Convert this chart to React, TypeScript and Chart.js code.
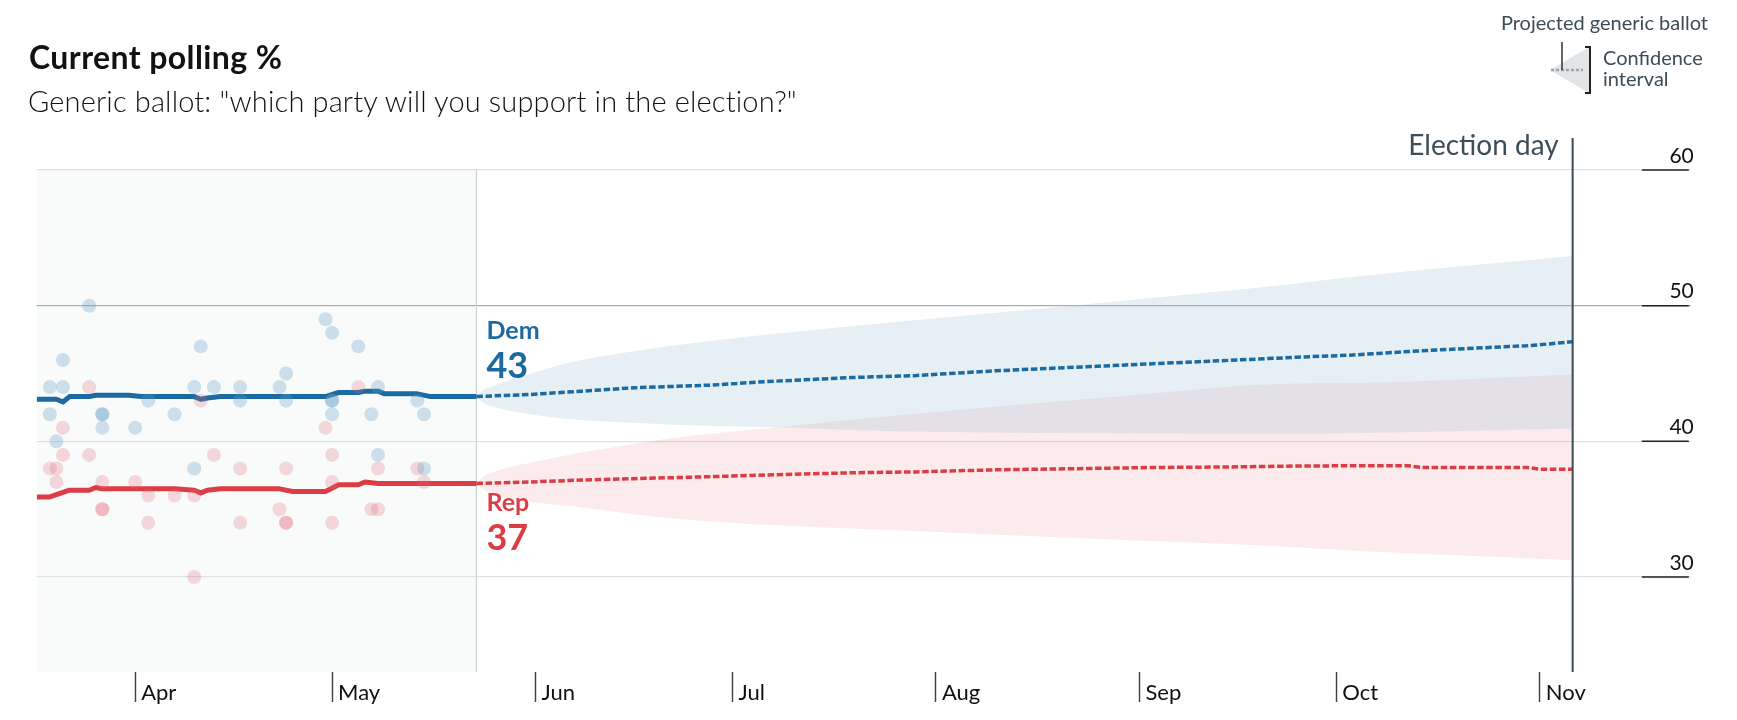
import React, { useEffect, useRef } from "react";
import { Chart, registerables } from "chart.js";

Chart.register(...registerables);

// ---------- axis definitions ----------
const X_START = "2018-03-17";
const X_END = "2018-11-24";
const TODAY = "2018-05-23";
const ELECTION_DAY = "2018-11-06";
const MONTH_TICKS = ["2018-04-01", "2018-05-01", "2018-06-01", "2018-07-01", "2018-08-01", "2018-09-01", "2018-10-01", "2018-11-01"];
const MONTH_LABELS = ["Apr", "May", "Jun", "Jul", "Aug", "Sep", "Oct", "Nov"];
const Y_TICKS = [30, 40, 50, 60];
const Y_MIN = 23;
const Y_MAX = 60;

// ---------- individual polls ----------
const DEM_POLL_DATES = ["2018-03-19", "2018-03-21", "2018-03-21", "2018-03-19", "2018-03-20", "2018-03-25", "2018-03-27", "2018-03-27", "2018-03-27", "2018-04-01", "2018-04-03", "2018-04-07", "2018-04-10", "2018-04-10", "2018-04-11", "2018-04-13", "2018-04-17", "2018-04-17", "2018-04-23", "2018-04-24", "2018-04-24", "2018-04-30", "2018-05-01", "2018-05-01", "2018-05-01", "2018-05-01", "2018-05-05", "2018-05-08", "2018-05-07", "2018-05-08", "2018-05-14", "2018-05-15", "2018-05-15"];
const DEM_POLL_VALUES = [44, 44, 46, 42, 40, 50, 42, 42, 41, 41, 43, 42, 44, 38, 47, 44, 44, 43, 44, 45, 43, 49, 48, 43, 43, 42, 47, 44, 42, 39, 43, 42, 38];

const REP_POLL_DATES = ["2018-03-25", "2018-03-21", "2018-03-21", "2018-03-19", "2018-03-20", "2018-03-20", "2018-03-25", "2018-03-27", "2018-03-27", "2018-03-27", "2018-04-01", "2018-04-03", "2018-04-03", "2018-04-07", "2018-04-10", "2018-04-11", "2018-04-10", "2018-04-13", "2018-04-17", "2018-04-17", "2018-04-24", "2018-04-23", "2018-04-24", "2018-04-24", "2018-04-30", "2018-05-01", "2018-05-01", "2018-05-01", "2018-05-05", "2018-05-08", "2018-05-07", "2018-05-08", "2018-05-14", "2018-05-15"];
const REP_POLL_VALUES = [44, 41, 39, 38, 38, 37, 39, 37, 35, 35, 37, 36, 34, 36, 36, 43, 30, 39, 38, 34, 38, 35, 34, 34, 41, 39, 37, 34, 44, 38, 35, 35, 38, 37];

// ---------- polling averages ----------
const DEM_TREND_DATES = ["2018-03-17", "2018-03-20", "2018-03-21", "2018-03-22", "2018-03-25", "2018-03-26", "2018-03-31", "2018-04-02", "2018-04-10", "2018-04-11", "2018-04-12", "2018-04-14", "2018-04-30", "2018-05-02", "2018-05-05", "2018-05-06", "2018-05-08", "2018-05-09", "2018-05-14", "2018-05-16", "2018-05-23"];
const DEM_TREND_VALUES = [43.1, 43.1, 42.9, 43.3, 43.3, 43.4, 43.4, 43.3, 43.3, 43.1, 43.2, 43.3, 43.3, 43.6, 43.6, 43.7, 43.7, 43.5, 43.5, 43.3, 43.3];

const REP_TREND_DATES = ["2018-03-17", "2018-03-19", "2018-03-22", "2018-03-25", "2018-03-26", "2018-03-27", "2018-04-07", "2018-04-10", "2018-04-11", "2018-04-12", "2018-04-14", "2018-04-23", "2018-04-25", "2018-04-30", "2018-05-02", "2018-05-05", "2018-05-06", "2018-05-08", "2018-05-23"];
const REP_TREND_VALUES = [35.9, 35.9, 36.4, 36.4, 36.6, 36.5, 36.5, 36.4, 36.2, 36.4, 36.5, 36.5, 36.3, 36.3, 36.8, 36.8, 37.0, 36.9, 36.9];

// ---------- projections ----------
const PROJ_DATES = ["2018-05-23", "2018-05-31", "2018-06-08", "2018-06-16", "2018-06-28", "2018-07-06", "2018-07-19", "2018-07-29", "2018-08-10", "2018-08-24", "2018-09-03", "2018-09-16", "2018-09-25", "2018-10-03", "2018-10-12", "2018-10-14", "2018-10-30", "2018-11-01", "2018-11-06"];
const DEM_PROJ = [43.3, 43.45, 43.7, 43.95, 44.15, 44.4, 44.7, 44.85, 45.2, 45.5, 45.72, 46.0, 46.2, 46.35, 46.62, 46.68, 47.05, 47.12, 47.35];
const REP_PROJ = [36.9, 37.0, 37.15, 37.25, 37.4, 37.52, 37.68, 37.75, 37.9, 38.0, 38.07, 38.12, 38.18, 38.2, 38.2, 38.08, 38.08, 37.95, 37.95];

// ---------- confidence intervals ----------
const BAND_DATES = ["2018-05-23", "2018-05-24", "2018-05-26", "2018-05-28", "2018-06-01", "2018-06-06", "2018-06-14", "2018-06-21", "2018-07-06", "2018-07-26", "2018-08-26", "2018-09-25", "2018-10-03", "2018-11-06"];
const DEM_UPPER = [43.3, 43.75, 44.15, 44.5, 45.1, 45.8, 46.5, 47.0, 47.85, 48.8, 50.2, 51.64, 52.1, 53.66];
const DEM_LOWER = [43.3, 42.85, 42.5, 42.25, 41.95, 41.65, 41.4, 41.25, 41.05, 40.75, 40.6, 40.58, 40.6, 40.95];
const REP_UPPER = [36.9, 37.4, 37.8, 38.1, 38.5, 39.0, 39.65, 40.2, 40.95, 41.9, 43.2, 44.27, 44.3, 44.9];
const REP_LOWER = [36.9, 36.45, 36.05, 35.75, 35.5, 35.25, 34.75, 34.35, 33.85, 33.45, 32.8, 32.2, 31.95, 31.24];

// ---------- styling ----------
const DEM = "#1b6aa1";
const REP = "#dc3d44";
const FONT = "Lato";

const dayOf = (s: string) =>
  (Date.UTC(+s.slice(0, 4), +s.slice(5, 7) - 1, +s.slice(8, 10)) - Date.UTC(2018, 0, 1)) / 86400000;

const pts = (dates: string[], vals: number[]) => dates.map((d, i) => ({ x: dayOf(d), y: vals[i] }));

const decorPlugin = {
  id: "decor",
  beforeDraw(chart: any) {
    const { ctx, chartArea: a, scales } = chart;
    const tx = scales.x.getPixelForValue(dayOf(TODAY));
    ctx.save();
    ctx.fillStyle = "#f9fbfb";
    ctx.fillRect(a.left, a.top, tx - a.left, a.bottom - a.top);
    ctx.restore();
  },
  beforeDatasetsDraw(chart: any) {
    const { ctx, chartArea: a, scales } = chart;
    const tx = scales.x.getPixelForValue(dayOf(TODAY));
    ctx.save();
    ctx.strokeStyle = "#c7d2d8";
    ctx.lineWidth = 1.2;
    ctx.beginPath();
    ctx.moveTo(tx, a.top);
    ctx.lineTo(tx, a.bottom);
    ctx.stroke();
    ctx.restore();
  },
  afterDatasetsDraw(chart: any) {
    const { ctx, chartArea: a, scales } = chart;
    const { x, y } = scales;
    const ex = x.getPixelForValue(dayOf(ELECTION_DAY));
    ctx.save();
    // election day line + label
    ctx.strokeStyle = "#3a4b55";
    ctx.lineWidth = 2;
    ctx.beginPath();
    ctx.moveTo(ex, a.top - 32);
    ctx.lineTo(ex, a.bottom);
    ctx.stroke();
    ctx.font = `28px ${FONT}`;
    ctx.fillStyle = "#3c4e58";
    ctx.textAlign = "right";
    ctx.textBaseline = "alphabetic";
    ctx.fillText("Election day", ex - 14, a.top - 15);

    // dark underlines of y labels
    ctx.strokeStyle = "#222";
    ctx.lineWidth = 1.5;
    Y_TICKS.forEach((v) => {
      const yy = y.getPixelForValue(v);
      ctx.beginPath();
      ctx.moveTo(a.right - 49, yy);
      ctx.lineTo(a.right - 2, yy);
      ctx.stroke();
    });

    // party labels
    const tx = x.getPixelForValue(dayOf(TODAY)) + 10;
    const demLast = DEM_TREND_VALUES[DEM_TREND_VALUES.length - 1];
    const repLast = REP_TREND_VALUES[REP_TREND_VALUES.length - 1];
    const dy = y.getPixelForValue(demLast);
    const ry = y.getPixelForValue(repLast);
    ctx.textAlign = "left";
    ctx.fillStyle = DEM;
    ctx.font = `bold 25px ${FONT}`;
    ctx.fillText("Dem", tx, dy - 58);
    ctx.font = `bold 36px ${FONT}`;
    ctx.fillText(String(Math.round(demLast)), tx, dy - 19);
    ctx.fillStyle = REP;
    ctx.font = `bold 25px ${FONT}`;
    ctx.fillText("Rep", tx, ry + 28);
    ctx.font = `bold 36px ${FONT}`;
    ctx.fillText(String(Math.round(repLast)), tx, ry + 67);
    ctx.restore();
  },
  afterDraw(chart: any) {
    const { ctx } = chart;
    ctx.save();
    // legend key: confidence wedge
    ctx.fillStyle = "#e1e5e7";
    ctx.beginPath();
    ctx.moveTo(1550, 70);
    ctx.lineTo(1589, 47);
    ctx.lineTo(1589, 93);
    ctx.closePath();
    ctx.fill();
    ctx.strokeStyle = "#9aa4aa";
    ctx.lineWidth = 2.5;
    ctx.setLineDash([3, 2]);
    ctx.beginPath();
    ctx.moveTo(1551, 70);
    ctx.lineTo(1583, 70);
    ctx.stroke();
    ctx.setLineDash([]);
    ctx.strokeStyle = "#333";
    ctx.lineWidth = 1.5;
    ctx.beginPath();
    ctx.moveTo(1562, 42);
    ctx.lineTo(1562, 70);
    ctx.stroke();
    ctx.strokeStyle = "#222";
    ctx.lineWidth = 2;
    ctx.beginPath();
    ctx.moveTo(1585, 47);
    ctx.lineTo(1590, 47);
    ctx.lineTo(1590, 93);
    ctx.lineTo(1585, 93);
    ctx.stroke();
    ctx.restore();
  },
};

export default function App() {
  const ref = useRef<HTMLCanvasElement | null>(null);

  useEffect(() => {
    if (!ref.current) return;
    Chart.defaults.font.family = FONT;
    const chart = new Chart(ref.current, {
      type: "line",
      data: {
        datasets: [
          {
            label: "Dem polls",
            data: pts(DEM_POLL_DATES, DEM_POLL_VALUES),
            showLine: false,
            pointRadius: 7,
            pointBackgroundColor: "rgba(95,155,195,0.3)",
            pointBorderWidth: 0,
            borderColor: "transparent",
            order: 1,
          },
          {
            label: "Rep polls",
            data: pts(REP_POLL_DATES, REP_POLL_VALUES),
            showLine: false,
            pointRadius: 7,
            pointBackgroundColor: "rgba(228,105,115,0.25)",
            pointBorderWidth: 0,
            borderColor: "transparent",
            order: 2,
          },
          {
            label: "Dem",
            data: pts(DEM_TREND_DATES, DEM_TREND_VALUES),
            borderColor: DEM,
            borderWidth: 5,
            pointRadius: 0,
            borderJoinStyle: "round",
            fill: false,
            order: 3,
          },
          {
            label: "Rep",
            data: pts(REP_TREND_DATES, REP_TREND_VALUES),
            borderColor: REP,
            borderWidth: 5,
            pointRadius: 0,
            borderJoinStyle: "round",
            fill: false,
            order: 4,
          },
          {
            label: "Dem projection",
            data: pts(PROJ_DATES, DEM_PROJ),
            borderColor: DEM,
            borderWidth: 3.5,
            borderDash: [6.5, 2.6],
            pointRadius: 0,
            fill: false,
            order: 5,
          },
          {
            label: "Rep projection",
            data: pts(PROJ_DATES, REP_PROJ),
            borderColor: REP,
            borderWidth: 3.5,
            borderDash: [6.5, 2.6],
            pointRadius: 0,
            fill: false,
            order: 6,
          },
          {
            label: "Dem upper",
            data: pts(BAND_DATES, DEM_UPPER),
            borderColor: "transparent",
            borderWidth: 0,
            pointRadius: 0,
            cubicInterpolationMode: "monotone",
            fill: "+1",
            backgroundColor: "rgba(150,190,212,0.25)",
            order: 7,
          },
          {
            label: "Dem lower",
            data: pts(BAND_DATES, DEM_LOWER),
            borderColor: "transparent",
            borderWidth: 0,
            pointRadius: 0,
            cubicInterpolationMode: "monotone",
            fill: false,
            order: 7,
          },
          {
            label: "Rep upper",
            data: pts(BAND_DATES, REP_UPPER),
            borderColor: "transparent",
            borderWidth: 0,
            pointRadius: 0,
            cubicInterpolationMode: "monotone",
            fill: "+1",
            backgroundColor: "rgba(236,120,130,0.15)",
            order: 8,
          },
          {
            label: "Rep lower",
            data: pts(BAND_DATES, REP_LOWER),
            borderColor: "transparent",
            borderWidth: 0,
            pointRadius: 0,
            cubicInterpolationMode: "monotone",
            fill: false,
            order: 8,
          },
        ],
      },
      options: {
        animation: false,
        responsive: false,
        devicePixelRatio: 1,
        events: [],
        layout: { padding: { left: 36.7, top: 170, right: 0, bottom: 0 } },
        plugins: { legend: { display: false }, tooltip: { enabled: false }, title: { display: false } },
        scales: {
          x: {
            type: "linear",
            min: dayOf(X_START),
            max: dayOf(X_END),
            afterBuildTicks: (s: any) => {
              s.ticks = MONTH_TICKS.map((d) => ({ value: dayOf(d) }));
            },
            afterFit: (s: any) => {
              s.height = 48;
            },
            ticks: {
              callback: (_v: any, i: number) => MONTH_LABELS[i],
              autoSkip: false,
              maxRotation: 0,
              minRotation: 0,
              align: "start",
              labelOffset: 6,
              padding: -22,
              color: "#111",
              font: { family: FONT, size: 22 },
            },
            grid: {
              drawOnChartArea: false,
              drawTicks: true,
              tickLength: 30,
              tickColor: "#3a3f44",
              tickWidth: 1.4,
            },
            border: { display: false },
          },
          y: {
            type: "linear",
            position: "right",
            min: Y_MIN,
            max: Y_MAX,
            afterBuildTicks: (s: any) => {
              s.ticks = Y_TICKS.map((v) => ({ value: v }));
            },
            afterFit: (s: any) => {
              s.width = 46.2;
            },
            ticks: {
              mirror: true,
              padding: 3,
              labelOffset: -14,
              color: "#111",
              font: { family: FONT, size: 21 },
            },
            grid: {
              drawTicks: false,
              color: (c: any) => (c.tick && c.tick.value === 50 ? "#a3afb6" : "#dce1e4"),
              lineWidth: 1.3,
            },
            border: { display: false },
          },
        },
      },
      plugins: [decorPlugin],
    } as any);
    return () => chart.destroy();
  }, []);

  const legendText: React.CSSProperties = {
    position: "absolute",
    font: `400 20px ${FONT}`,
    lineHeight: "20px",
    color: "#3c4d57",
    whiteSpace: "nowrap",
  };

  return (
    <div style={{ position: "absolute", left: 0, top: 0, width: 1737, height: 720, background: "#fff", overflow: "hidden" }}>
      <canvas ref={ref} width={1737} height={720} style={{ position: "absolute", left: 0, top: 0, width: 1737, height: 720 }} />
      <div style={{ position: "absolute", left: 29, top: 41, font: `700 32px ${FONT}`, lineHeight: "32px", letterSpacing: "0.4px", color: "#121212", whiteSpace: "nowrap" }}>
        Current polling %
      </div>
      <div style={{ position: "absolute", left: 28, top: 86, font: `300 29px ${FONT}`, lineHeight: "29px", letterSpacing: "0.15px", color: "#121212", whiteSpace: "nowrap" }}>
        Generic ballot: "which party will you support in the election?"
      </div>
      <div style={{ ...legendText, right: 29, top: 12, textAlign: "right" }}>Projected generic ballot</div>
      <div style={{ ...legendText, left: 1603, top: 47 }}>Confidence</div>
      <div style={{ ...legendText, left: 1603, top: 68 }}>interval</div>
    </div>
  );
}
